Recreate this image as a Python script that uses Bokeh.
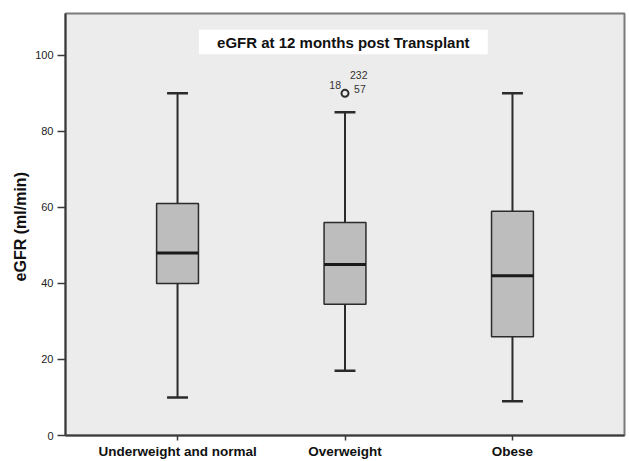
from bokeh.plotting import figure
from bokeh.models import Range1d, FixedTicker, ColumnDataSource
from bokeh.core.properties import value
from bokeh.embed import file_html
from bokeh.resources import INLINE

categories = ["Underweight and normal", "Overweight", "Obese"]
positions = [1, 2, 3]
whisker_low = [10, 17, 9]
q1 = [40, 34.5, 26]
median = [48, 45, 42]
q3 = [61, 56, 59]
whisker_high = [90, 85, 90]

outlier_x = [2]
outlier_y = [90]
outlier_ids = ["18", "232", "57"]

title_text = "eGFR at 12 months post Transplant"
y_label = "eGFR  (ml/min)"
y_ticks = [0, 20, 40, 60, 80, 100]

FONT = "Liberation Sans"
LINE = "#2b2b2b"

p = figure(width=629, height=461, output_backend="svg", toolbar_location=None,
           x_range=Range1d(0.331, 3.669), y_range=Range1d(0, 111),
           min_border_left=65, min_border_right=5, min_border_top=13, min_border_bottom=24)
p.background_fill_color = "#ececec"
p.border_fill_color = "white"
p.outline_line_color = "#7a7a7a"
p.outline_line_width = 2
p.xgrid.visible = False
p.ygrid.visible = False

src = ColumnDataSource(dict(x=positions, lo=whisker_low, q1=q1, med=median, q3=q3, hi=whisker_high))

# whiskers
p.segment(x0="x", y0="hi", x1="x", y1="q3", source=src, line_color=LINE, line_width=2)
p.segment(x0="x", y0="lo", x1="x", y1="q1", source=src, line_color=LINE, line_width=2)
cap = 0.0625
p.segment(x0=[x - cap for x in positions], y0=whisker_high, x1=[x + cap for x in positions], y1=whisker_high,
          line_color=LINE, line_width=2.5)
p.segment(x0=[x - cap for x in positions], y0=whisker_low, x1=[x + cap for x in positions], y1=whisker_low,
          line_color=LINE, line_width=2.5)
# boxes
bw = 0.125
p.quad(left=[x - bw for x in positions], right=[x + bw for x in positions], bottom=q1, top=q3,
       fill_color="#bdbdbd", line_color=LINE, line_width=1.5)
p.segment(x0=[x - bw for x in positions], y0=median, x1=[x + bw for x in positions], y1=median,
          line_color="#1a1a1a", line_width=3)

# outlier
p.scatter(outlier_x, outlier_y, size=7, fill_color="#ececec", line_color=LINE, line_width=2)
ox, oy = outlier_x[0], outlier_y[0]
p.text(x=[ox - 0.024, ox + 0.03, ox + 0.054], y=[oy + 2.1, oy + 4.7, oy + 1.05], text=outlier_ids,
       text_font=value(FONT), text_font_size="10.5px", text_color="#333333",
       text_align=["right", "left", "left"], text_baseline="middle")

# title box
p.rect(x=[1.99], y=[103.5], width=1.725, height=6.5, fill_color="white", line_color=None)
p.text(x=[1.99], y=[103.5], text=[title_text], text_font=value(FONT), text_font_size="15px",
       text_font_style="bold", text_align="center", text_baseline="middle", text_color="#111111")

# axes
p.yaxis.ticker = FixedTicker(ticks=y_ticks)
p.yaxis.axis_label = y_label
p.yaxis.axis_label_text_font = FONT
p.yaxis.axis_label_text_font_size = "16px"
p.yaxis.axis_label_text_font_style = "bold"
p.yaxis.axis_label_text_color = "#111111"
p.yaxis.major_label_text_font = FONT
p.yaxis.major_label_text_font_size = "11px"
p.yaxis.major_label_text_color = "#222222"
p.yaxis.major_label_standoff = 4
p.yaxis.axis_line_color = "#3a3a3a"
p.yaxis.axis_line_width = 2
p.yaxis.major_tick_line_color = "#3a3a3a"
p.yaxis.major_tick_line_width = 1.5
p.yaxis.major_tick_out = 8
p.yaxis.major_tick_in = 0
p.yaxis.minor_tick_line_color = None
p.yaxis.axis_label_standoff = 3

p.xaxis.ticker = FixedTicker(ticks=positions)
p.xaxis.major_label_overrides = {x: c for x, c in zip(positions, categories)}
p.xaxis.major_label_text_font = FONT
p.xaxis.major_label_text_font_size = "13.5px"
p.xaxis.major_label_text_font_style = "bold"
p.xaxis.major_label_text_color = "#111111"
p.xaxis.major_label_standoff = 3
p.xaxis.axis_line_color = "#3a3a3a"
p.xaxis.axis_line_width = 2
p.xaxis.major_tick_line_color = "#3a3a3a"
p.xaxis.major_tick_line_width = 1.5
p.xaxis.major_tick_out = 5
p.xaxis.major_tick_in = 0
p.xaxis.minor_tick_line_color = None

open("out.html", "w").write(file_html(p, INLINE))
